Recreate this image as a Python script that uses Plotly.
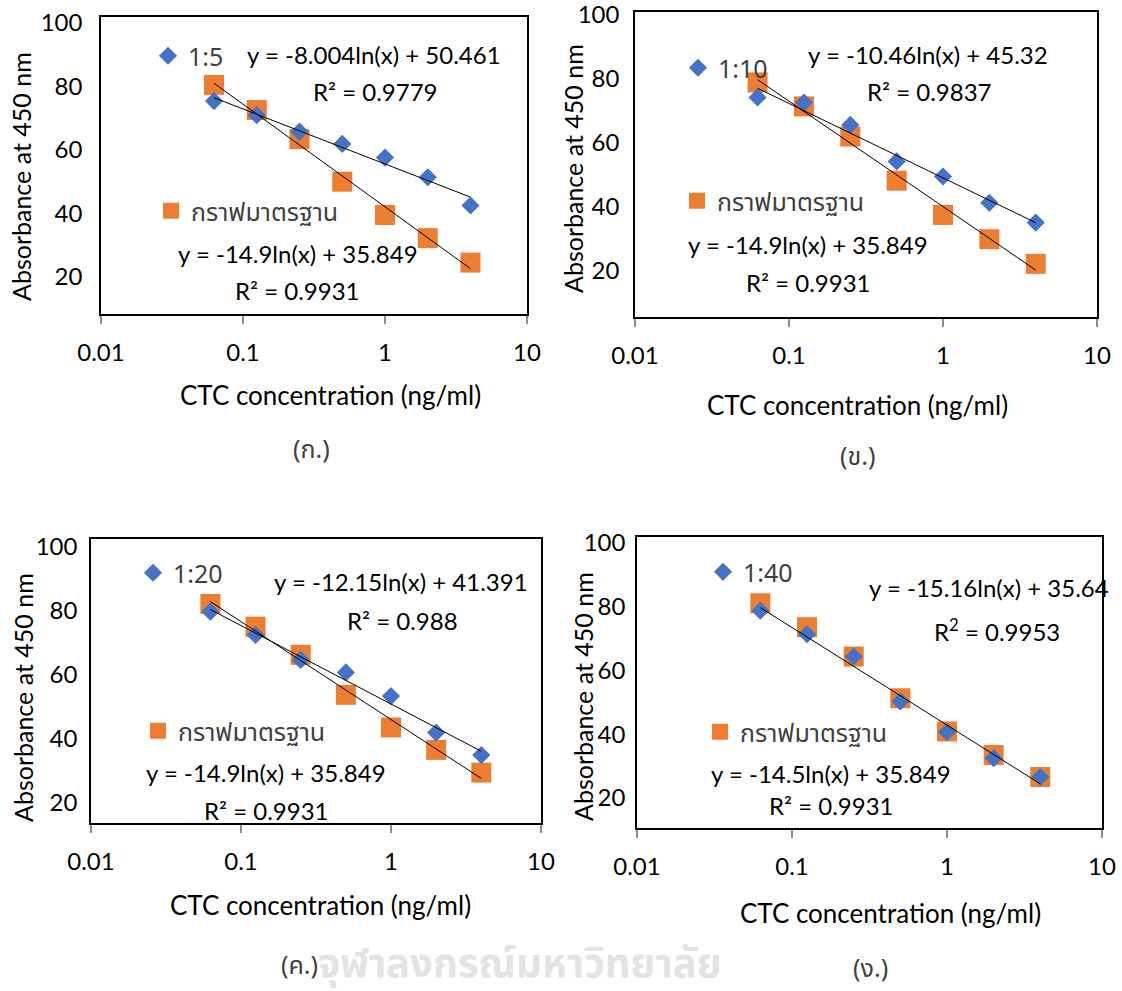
import numpy as np
import plotly.graph_objects as go

W, H = 1122, 991

# ---------------- data ----------------
conc = [0.0625, 0.125, 0.25, 0.5, 1, 2, 4]
labels = ["1:5", "1:10", "1:20", "1:40"]
sample_1_5 = [75.4, 71.0, 65.8, 61.9, 57.6, 51.4, 42.5]
standard_1_5 = [80.5, 72.6, 63.4, 50.0, 39.5, 32.2, 24.5]
sample_1_10 = [74.2, 72.6, 65.6, 54.2, 49.5, 41.3, 35.1]
standard_1_10 = [78.9, 71.4, 62.0, 48.2, 37.5, 29.9, 22.2]
sample_1_20 = [79.8, 72.5, 64.7, 60.8, 53.4, 42.0, 35.0]
standard_1_20 = [82.2, 75.1, 66.3, 53.8, 43.6, 36.6, 29.5]
sample_1_40 = [78.8, 71.4, 64.4, 50.3, 40.7, 32.5, 26.6]
standard_1_40 = [81.1, 73.6, 64.4, 51.3, 40.9, 33.5, 26.6]
standard_name = "กราฟมาตรฐาน"
eq_sample = ["y = -8.004ln(x) + 50.461", "y = -10.46ln(x) + 45.32",
             "y = -12.15ln(x) + 41.391", "y = -15.16ln(x) + 35.64"]
r2_sample = ["R² = 0.9779", "R² = 0.9837", "R² = 0.988", "R<sup>2</sup> = 0.9953"]
eq_standard = ["y = -14.9ln(x) + 35.849", "y = -14.9ln(x) + 35.849",
               "y = -14.9ln(x) + 35.849", "y = -14.5ln(x) + 35.849"]
r2_standard = ["R² = 0.9931"] * 4
captions = ["(ก.)", "(ข.)", "(ค.)", "(ง.)"]
x_tick_vals = [0.01, 0.1, 1, 10]
x_tick_text = ["0.01", "0.1", "1", "10"]
y_tick_vals = [20, 40, 60, 80, 100]
x_title = "CTC concentration (ng/ml)"
y_title = "Absorbance at 450 nm"
watermark = "จุฬาลงกรณ์มหาวิทยาลัย"

samples = [sample_1_5, sample_1_10, sample_1_20, sample_1_40]
standards = [standard_1_5, standard_1_10, standard_1_20, standard_1_40]
draw_std_trend = [True, True, True, False]

# ---------------- layout (pixel geometry) ----------------
def PX(x): return x / W
def PY(y): return 1 - y / H

panels = [
    dict(box=(101, 527, 17, 314), yr=(8.3, 101.9), ygap=12,
         eq1=(374, 55), r1=(375, 92), eq2=(298, 253), r2=(297, 290),
         lg1=(167, 56), lg2=(170, 211), cap=(311, 450),
         xt=(330, 395), yt=(21, 177)),
    dict(box=(635, 1097, 12, 317), yr=(5.6, 100.9), ygap=9,
         eq1=(928, 55), r1=(929, 92), eq2=(808, 245), r2=(808, 282),
         lg1=(697, 68), lg2=(696, 201), cap=(857, 457),
         xt=(857, 405), yt=(573, 169)),
    dict(box=(91, 541, 539, 823), yr=(13.75, 102.5), ygap=7,
         eq1=(401, 581), r1=(402, 620), eq2=(266, 772), r2=(266, 810),
         lg1=(152, 573), lg2=(157, 731), cap=(299, 966),
         xt=(320, 905), yt=(23, 698)),
    dict(box=(637, 1102, 537, 828), yr=(10.6, 101.9), ygap=5,
         eq1=(989, 587), r1=(997, 630), eq2=(831, 773), r2=(831, 805),
         lg1=(722, 572), lg2=(719, 732), cap=(870, 969),
         xt=(890, 913), yt=(583, 697)),
]

FONT = "Lato, 'Noto Sans', 'Noto Sans Thai', sans-serif"
THAI = "'Noto Sans Thai', 'Noto Sans', sans-serif"
BLUE = "#4472C4"
ORANGE = "#ED7D31"

fig = go.Figure()
annotations = []
layout = dict(width=W, height=H, margin=dict(l=0, r=0, t=0, b=0, autoexpand=False),
              paper_bgcolor="white", plot_bgcolor="white",
              font=dict(family=FONT, size=24, color="#000000"))

# watermark text (background)
annotations.append(dict(x=PX(520), y=PY(965), xref="paper", yref="paper",
                        xanchor="center", yanchor="middle",
                        text=watermark, showarrow=False,
                        font=dict(family=THAI, size=40, color="#e3e3e3", weight="bold")))

for i, p in enumerate(panels):
    n = "" if i == 0 else str(i + 1)
    xa, ya = "x" + n, "y" + n
    L, R, T, B = p["box"]
    layout["xaxis" + n] = dict(
        domain=[PX(L), PX(R)], anchor=ya, type="log", range=[-2, 1], automargin=False,
        tickvals=x_tick_vals, ticktext=x_tick_text, showgrid=False, zeroline=False,
        showline=True, linecolor="black", linewidth=1.5, mirror=True,
        ticks="outside", ticklen=8, tickcolor="#8c8c8c", tickwidth=1.5,
        ticklabelstandoff=8, ticklabeloverflow="allow", tickfont=dict(size=24))
    layout["yaxis" + n] = dict(
        domain=[PY(B), PY(T)], anchor=xa, range=list(p["yr"]), automargin=False,
        tickvals=y_tick_vals, showgrid=False, zeroline=False,
        showline=True, linecolor="black", linewidth=1.5, mirror=True,
        ticks="", ticklabelstandoff=p["ygap"], ticklabeloverflow="allow",
        tickfont=dict(size=24))

    leg1 = "legend" if i == 0 else "legend" + str(2 * i + 1)
    leg2 = "legend" + str(2 * i + 2)
    for lg, pos in ((leg1, p["lg1"]), (leg2, p["lg2"])):
        layout[lg] = dict(x=PX(pos[0] - 19), y=PY(pos[1]), xanchor="left", yanchor="middle",
                          xref="paper", yref="paper", bgcolor="rgba(0,0,0,0)",
                          font=dict(family=THAI, size=25, color="#404040"),
                          itemsizing="trace")

    lx = np.log(np.array(conc))
    fig.add_trace(go.Scatter(x=conc, y=standards[i], mode="markers", name=standard_name,
                             marker=dict(symbol="square", size=20, color=ORANGE),
                             xaxis=xa, yaxis=ya, legend=leg2, showlegend=True))
    fig.add_trace(go.Scatter(x=conc, y=samples[i], mode="markers", name=labels[i],
                             marker=dict(symbol="diamond", size=14, color=BLUE),
                             xaxis=xa, yaxis=ya, legend=leg1, showlegend=True))
    for vals, draw in ((samples[i], True), (standards[i], draw_std_trend[i])):
        if not draw:
            continue
        a, b = np.polyfit(lx, np.array(vals), 1)
        xs = [conc[0], conc[-1]]
        ys = [a * np.log(v) + b for v in xs]
        fig.add_trace(go.Scatter(x=xs, y=ys, mode="lines", line=dict(color="black", width=1),
                                 xaxis=xa, yaxis=ya, showlegend=False, hoverinfo="skip"))

    for key, txt in (("eq1", eq_sample[i]), ("r1", r2_sample[i]),
                     ("eq2", eq_standard[i]), ("r2", r2_standard[i])):
        annotations.append(dict(x=PX(p[key][0]), y=PY(p[key][1]), xref="paper", yref="paper",
                                xanchor="center", yanchor="middle",
                                text=txt, showarrow=False, font=dict(size=24)))
    annotations.append(dict(x=PX(p["cap"][0]), y=PY(p["cap"][1]), xref="paper", yref="paper",
                            xanchor="center", yanchor="middle",
                            text=captions[i], showarrow=False,
                            font=dict(family=THAI, size=25, color="#404040")))
    annotations.append(dict(x=PX(p["xt"][0]), y=PY(p["xt"][1]), xref="paper", yref="paper",
                            xanchor="center", yanchor="middle",
                            text=x_title, showarrow=False, font=dict(size=26)))
    annotations.append(dict(x=PX(p["yt"][0]), y=PY(p["yt"][1]), xref="paper", yref="paper",
                            xanchor="center", yanchor="middle",
                            text=y_title, showarrow=False, textangle=-90, font=dict(size=25)))

layout["annotations"] = annotations
fig.update_layout(**layout)
fig.write_html("out.html")
